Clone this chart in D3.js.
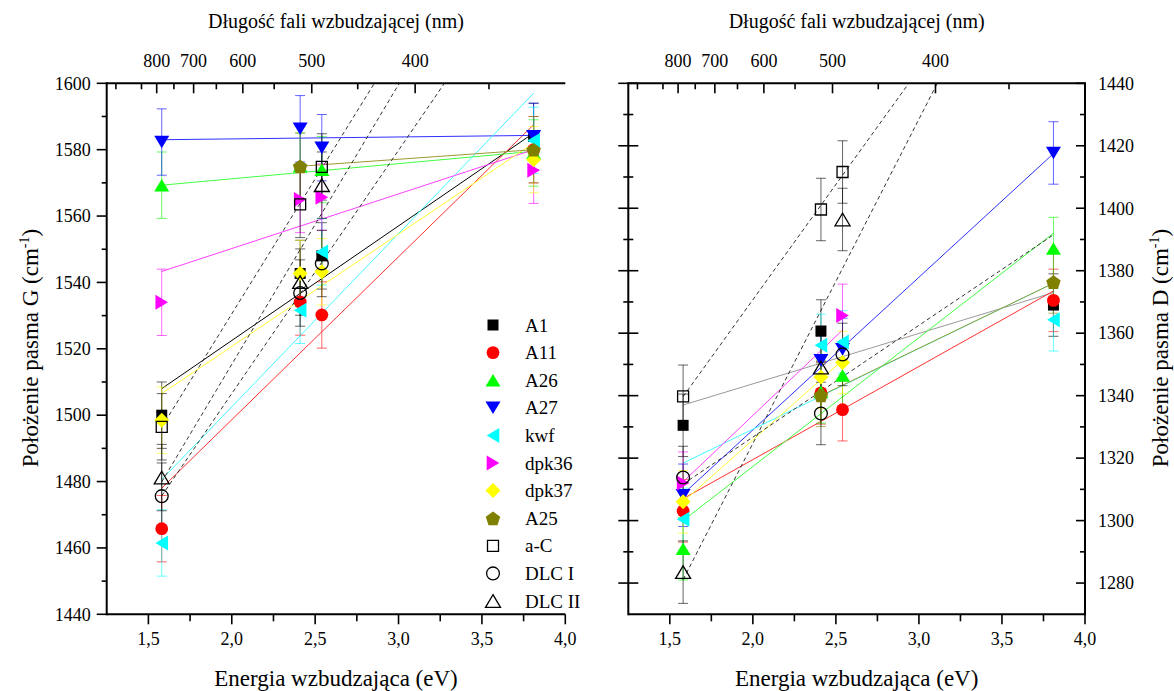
<!DOCTYPE html>
<html><head><meta charset="utf-8">
<script src="https://cdn.jsdelivr.net/npm/d3@7"></script>
<style>
body{margin:0;background:#fff}
svg{display:block}
</style>
</head><body>
<svg id="c" width="1174" height="691" font-family="'Liberation Serif', 'Times New Roman', 'DejaVu Serif', serif"></svg>
<script>
// ---------------- DATA ----------------
const energies = [1.58, 2.41, 2.54, 3.81];
const seriesNames = ["A1","A11","A26","A27","kwf","dpk36","dpk37","A25","a-C","DLC I","DLC II"];
const seriesColors = ["#000000","#ff0000","#00ff00","#0000ff","#00ffff","#ff00ff","#ffff00","#808000","#000000","#000000","#000000"];
const seriesShapes = ["square","circle","up","down","left","right","diamond","pentagon","osquare","ocircle","oup"];

// G band positions (cm-1) at energies above; null = no point
const G_A1    = [1500.0, 1542.7, 1548.0, 1584.0];
const G_A11   = [1465.8, 1534.1, 1530.2, 1580.0];
const G_A26   = [1569.3, 1575.0, 1574.0, 1579.0];
const G_A27   = [1582.3, 1586.3, 1580.6, 1584.0];
const G_kwf   = [1461.5, 1531.6, 1549.2, 1582.8];
const G_dpk36 = [1534.0, 1565.0, 1565.7, 1573.8];
const G_dpk37 = [1498.5, 1542.7, 1543.2, 1577.0];
const G_A25   = [null,   1575.0, null,   1580.0];
const G_aC    = [1496.5, 1563.5, 1574.8, null];
const G_DLC1  = [1475.6, 1536.8, 1545.7, null];
const G_DLC2  = [1481.2, 1540.1, 1569.3, null];

// D band positions (cm-1)
const D_A1    = [1330.5, 1360.7, null,   1369.0];
const D_A11   = [1303.1, 1340.9, 1335.5, 1370.5];
const D_A26   = [1291.0, 1341.2, 1346.5, 1387.1];
const D_A27   = [1308.1, 1351.3, 1354.8, 1417.7];
const D_kwf   = [1300.4, 1356.1, 1357.2, 1364.3];
const D_dpk36 = [1312.0, null,   1365.7, null];
const D_dpk37 = [1306.0, 1346.0, 1350.6, null];
const D_A25   = [null,   1340.1, null,   1376.4];
const D_aC    = [1339.8, 1399.6, 1411.6, null];
const D_DLC1  = [1313.8, 1334.3, 1353.2, null];
const D_DLC2  = [1283.5, 1349.0, 1396.4, null];

// error bar half-widths (cm-1)
const errG = [10,10,10,10,10,10,10,10,10,10,10];
const errD = [10,10,10,10,10,10,10,10,10,10,10];

// linear fit lines: [E start, value start, E end, value end]
const fitG_A1    = [1.58, 1508.0, 3.81, 1585.0];
const fitG_A11   = [1.58, 1478.0, 3.81, 1587.5];
const fitG_A26   = [1.58, 1569.3, 3.81, 1579.5];
const fitG_A27   = [1.58, 1583.0, 3.81, 1584.3];
const fitG_kwf   = [1.58, 1480.6, 3.81, 1597.0];
const fitG_dpk36 = [1.58, 1543.3, 3.81, 1580.0];
const fitG_dpk37 = [1.58, 1506.5, 3.81, 1582.0];
const fitG_A25   = [2.41, 1575.0, 3.81, 1580.0];
const fitG_aC    = [1.58, 1496.4, 3.81, 1677.6];
const fitG_DLC1  = [1.58, 1475.7, 3.81, 1639.2];
const fitG_DLC2  = [1.58, 1479.9, 3.81, 1667.9];

const fitD_A1    = [1.58, 1337.0, 3.81, 1373.0];
const fitD_A11   = [1.58, 1307.0, 3.81, 1373.5];
const fitD_A26   = [1.58, 1300.0, 3.81, 1392.0];
const fitD_A27   = [1.58, 1308.5, 3.81, 1417.5];
const fitD_kwf   = [1.58, 1318.4, 3.81, 1376.0];
const fitD_dpk36 = [1.58, 1312.4, 2.54, 1361.0];
const fitD_dpk37 = [1.58, 1306.0, 2.54, 1351.3];
const fitD_A25   = [2.41, 1340.0, 3.81, 1376.0];
const fitD_aC    = [1.58, 1339.7, 3.81, 1504.3];
const fitD_DLC1  = [1.58, 1311.7, 3.81, 1391.5];
const fitD_DLC2  = [1.58, 1281.1, 3.81, 1512.6];

const fitColorsG = ["#000000","#ff3030","#40ff40","#3030ff","#40ffff","#ff40ff","#ffff30","#9a9a30","#333333","#333333","#333333"];
const fitColorsD = ["#999999","#ff3030","#40ff40","#3030ff","#40ffff","#ff40ff","#ffff30","#9a9a30","#333333","#333333","#333333"];
const fitDashed  = [false,false,false,false,false,false,false,false,true,true,true];

// axis ticks
const eMajor = [1.5, 2.0, 2.5, 3.0, 3.5, 4.0];
const eMinor = [1.75, 2.25, 2.75, 3.25, 3.75];
const waveMajor = [800, 700, 600, 500, 400];
const waveMinor = [950, 850, 750, 650, 550, 450, 350];
const gMajor = [1440,1460,1480,1500,1520,1540,1560,1580,1600];
const gMinor = [1450,1470,1490,1510,1530,1550,1570,1590];
const dMajor = [1280,1300,1320,1340,1360,1380,1400,1420,1440];
const dMinor = [1290,1310,1330,1350,1370,1390,1410,1430];

// texts
const topTitle = "Długość fali wzbudzającej (nm)";
const bottomTitle = "Energia wzbudzająca (eV)";
const yTitleG = "Położenie pasma G (cm";
const yTitleD = "Położenie pasma D (cm";

// ---------------- DRAW ----------------
const G = [G_A1,G_A11,G_A26,G_A27,G_kwf,G_dpk36,G_dpk37,G_A25,G_aC,G_DLC1,G_DLC2];
const D = [D_A1,D_A11,D_A26,D_A27,D_kwf,D_dpk36,D_dpk37,D_A25,D_aC,D_DLC1,D_DLC2];
const FG = [fitG_A1,fitG_A11,fitG_A26,fitG_A27,fitG_kwf,fitG_dpk36,fitG_dpk37,fitG_A25,fitG_aC,fitG_DLC1,fitG_DLC2];
const FD = [fitD_A1,fitD_A11,fitD_A26,fitD_A27,fitD_kwf,fitD_dpk36,fitD_dpk37,fitD_A25,fitD_aC,fitD_DLC1,fitD_DLC2];

const svg = d3.select("#c");
const TOP = 83.3, BOT = 614.3;
const fmtE = v => d3.format(".1f")(v).replace(".", ",");
const hc = 1239.84;

function shape(type){
  const s = 5.5, r = 6.4, a = 15, h = 12.6, d = 7.5, p = 7.6;
  switch(type){
    case "square": case "osquare": return `M${-s},${-s}H${s}V${s}H${-s}Z`;
    case "circle": case "ocircle": return `M${r},0A${r},${r} 0 1,1 ${-r},0A${r},${r} 0 1,1 ${r},0Z`;
    case "up": case "oup": return `M0,${-h/2}L${a/2},${h/2}L${-a/2},${h/2}Z`;
    case "down": return `M0,${h/2}L${a/2},${-h/2}L${-a/2},${-h/2}Z`;
    case "left": return `M${-h/2},0L${h/2},${-a/2}L${h/2},${a/2}Z`;
    case "right": return `M${h/2},0L${-h/2},${-a/2}L${-h/2},${a/2}Z`;
    case "diamond": return `M0,${-d}L${d},0L0,${d}L${-d},0Z`;
    case "pentagon": {
      const pts = d3.range(5).map(k => { const t = -Math.PI/2 + k*2*Math.PI/5; return [p*Math.cos(t), p*Math.sin(t)+0.8]; });
      return "M" + pts.map(q => q.join(",")).join("L") + "Z";
    }
  }
}

function drawPanel(cfg){
  const x = d3.scaleLinear().domain([1.25, 4.0]).range([cfg.x0, cfg.x1]);
  const y = d3.scaleLinear().domain(cfg.ydom).range([BOT, TOP]);
  const g = svg.append("g");
  const clipId = "clip" + cfg.id;
  svg.append("clipPath").attr("id", clipId).append("rect")
    .attr("x", cfg.x0).attr("y", TOP).attr("width", cfg.x1 - cfg.x0).attr("height", BOT - TOP);

  // fit lines
  const lines = g.append("g").attr("clip-path", `url(#${clipId})`);
  cfg.fits.forEach((f, i) => {
    lines.append("line")
      .attr("x1", x(f[0])).attr("y1", y(f[1])).attr("x2", x(f[2])).attr("y2", y(f[3]))
      .attr("stroke", cfg.fitColors[i]).attr("stroke-width", 1)
      .attr("stroke-dasharray", fitDashed[i] ? "4,3" : null);
  });

  // error bars
  const eb = g.append("g");
  cfg.data.forEach((arr, i) => {
    const col = seriesColors[i];
    arr.forEach((v, j) => {
      if (v == null) return;
      const cx = x(energies[j]), e = cfg.err[i];
      const ya = y(v + e), yb = y(v - e);
      eb.append("line").attr("x1", cx).attr("x2", cx).attr("y1", ya).attr("y2", yb)
        .attr("stroke", col).attr("stroke-width", 1).attr("opacity", 0.6);
      [ya, yb].forEach(yy => eb.append("line").attr("x1", cx - 5).attr("x2", cx + 5)
        .attr("y1", yy).attr("y2", yy).attr("stroke", col).attr("stroke-width", 1).attr("opacity", 0.6));
    });
  });

  // markers
  const mk = g.append("g");
  cfg.data.forEach((arr, i) => {
    const open = seriesShapes[i].startsWith("o");
    arr.forEach((v, j) => {
      if (v == null) return;
      mk.append("path").attr("d", shape(seriesShapes[i]))
        .attr("transform", `translate(${x(energies[j])},${y(v)})`)
        .attr("fill", open ? "#fff" : seriesColors[i])
        .attr("fill-opacity", open ? 0 : 1)
        .attr("stroke", open ? "#000" : "none").attr("stroke-width", 1.3);
    });
  });

  // axes
  const ax = svg.append("g").attr("stroke", "#000");
  ax.append("line").attr("x1", cfg.x0).attr("x2", cfg.x1).attr("y1", BOT).attr("y2", BOT).attr("stroke-width", 2);
  ax.append("line").attr("x1", cfg.x0).attr("x2", cfg.x1).attr("y1", TOP).attr("y2", TOP).attr("stroke-width", 2);
  ax.append("line").attr("x1", cfg.x0).attr("x2", cfg.x0).attr("y1", TOP - 1).attr("y2", BOT + 1).attr("stroke-width", 2);
  if (cfg.rightAxis) ax.append("line").attr("x1", cfg.x1).attr("x2", cfg.x1).attr("y1", TOP - 1).attr("y2", BOT + 1).attr("stroke-width", 2);

  // bottom ticks
  eMajor.forEach(v => {
    ax.append("line").attr("x1", x(v)).attr("x2", x(v)).attr("y1", BOT).attr("y2", BOT + 10).attr("stroke-width", 1.6);
    svg.append("text").attr("x", x(v)).attr("y", BOT + 31).attr("text-anchor", "middle")
      .attr("font-size", 18).text(fmtE(v));
  });
  eMinor.forEach(v => ax.append("line").attr("x1", x(v)).attr("x2", x(v)).attr("y1", BOT).attr("y2", BOT + 7).attr("stroke-width", 1.6));

  // top ticks (wavelength)
  waveMajor.forEach(w => {
    const xx = x(hc / w);
    ax.append("line").attr("x1", xx).attr("x2", xx).attr("y1", TOP).attr("y2", TOP + 10).attr("stroke-width", 1.6);
    svg.append("text").attr("x", xx).attr("y", TOP - 16).attr("text-anchor", "middle")
      .attr("font-size", 18).text(w);
  });
  waveMinor.forEach(w => {
    const xx = x(hc / w);
    if (xx < cfg.x0 || xx > cfg.x1) return;
    ax.append("line").attr("x1", xx).attr("x2", xx).attr("y1", TOP).attr("y2", TOP + 6).attr("stroke-width", 1.6);
  });

  // left ticks
  cfg.yMajor.forEach(v => {
    ax.append("line").attr("x1", cfg.x0 - 10).attr("x2", cfg.x0 + (cfg.leftCross ? 10 : 0))
      .attr("y1", y(v)).attr("y2", y(v)).attr("stroke-width", 1.6);
    if (cfg.leftLabels) svg.append("text").attr("x", cfg.x0 - 16).attr("y", y(v)).attr("dy", "0.35em")
      .attr("text-anchor", "end").attr("font-size", 18).text(v);
  });
  cfg.yMinor.forEach(v => ax.append("line").attr("x1", cfg.x0 - 5).attr("x2", cfg.x0 + (cfg.leftCross ? 5 : 0))
      .attr("y1", y(v)).attr("y2", y(v)).attr("stroke-width", 1.6));

  if (cfg.rightAxis) {
    cfg.yMajor.forEach(v => {
      ax.append("line").attr("x1", cfg.x1 - 9).attr("x2", cfg.x1).attr("y1", y(v)).attr("y2", y(v)).attr("stroke-width", 1.6);
      svg.append("text").attr("x", cfg.x1 + 13).attr("y", y(v)).attr("dy", "0.35em")
        .attr("text-anchor", "start").attr("font-size", 18).text(v);
    });
    cfg.yMinor.forEach(v => ax.append("line").attr("x1", cfg.x1 - 5).attr("x2", cfg.x1).attr("y1", y(v)).attr("y2", y(v)).attr("stroke-width", 1.6));
  }

  // titles
  const cx = (cfg.x0 + cfg.x1) / 2;
  svg.append("text").attr("x", cx).attr("y", 28).attr("text-anchor", "middle").attr("font-size", 20).text(topTitle);
  svg.append("text").attr("x", cx).attr("y", 686).attr("text-anchor", "middle").attr("font-size", 23).text(bottomTitle);
  const yt = svg.append("text").attr("transform", `translate(${cfg.ytx},348) rotate(-90)`)
    .attr("text-anchor", "middle").attr("font-size", 23);
  yt.append("tspan").text(cfg.yTitle);
  yt.append("tspan").attr("font-size", 14).attr("dy", -9).text("-1");
  yt.append("tspan").attr("dy", 9).text(")");
}

drawPanel({id:"L", x0:106.7, x1:565.3, ydom:[1440,1600], data:G, fits:FG, fitColors:fitColorsG, err:errG,
  yMajor:gMajor, yMinor:gMinor, leftLabels:true, leftCross:false, rightAxis:false, yTitle:yTitleG, ytx:38});
drawPanel({id:"R", x0:628.3, x1:1085, ydom:[1270,1440], data:D, fits:FD, fitColors:fitColorsD, err:errD,
  yMajor:dMajor, yMinor:dMinor, leftLabels:false, leftCross:true, rightAxis:true, yTitle:yTitleD, ytx:1168});

// legend
const leg = svg.append("g");
seriesNames.forEach((n, i) => {
  const yy = 325 + i * 27.6;
  const open = seriesShapes[i].startsWith("o");
  leg.append("path").attr("d", shape(seriesShapes[i])).attr("transform", `translate(493,${yy})`)
    .attr("fill", open ? "#fff" : seriesColors[i]).attr("stroke", open ? "#000" : "none").attr("stroke-width", 1.3);
  leg.append("text").attr("x", 525).attr("y", yy).attr("dy", "0.35em").attr("font-size", 19).text(n);
});
</script>
</body></html>
